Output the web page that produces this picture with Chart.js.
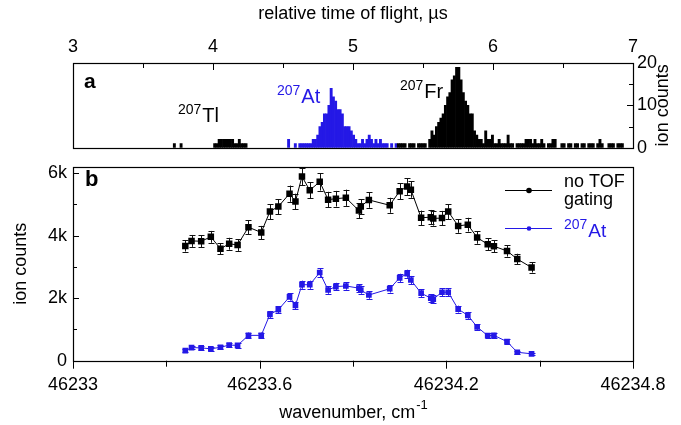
<!DOCTYPE html>
<html><head><meta charset="utf-8">
<script src="https://cdn.jsdelivr.net/npm/chart.js@4.4.0/dist/chart.umd.min.js"></script>
<style>
html,body{margin:0;padding:0;background:#fff;}
#wrap{position:relative;width:681px;height:425px;overflow:hidden;background:#fff;}
#cb{position:absolute;left:0;top:150px;}
#ca{position:absolute;left:0;top:0;}
</style></head><body>
<div id="wrap">
<canvas id="cb" width="681" height="275"></canvas>
<canvas id="ca" width="681" height="170"></canvas>
</div>
<script>
// ---------- Panel a : time-of-flight histogram ----------
const tofBinStart = 3.70;   // µs, left edge of first bin
const tofBinWidth = 0.016;  // µs
const tofCountsOther = [
 0,1,0,0,1,0,0,0,0,0,
 0,0,0,0,0,0,0,0,0,1,
 1,2,2,2,2,2,2,2,1,1,
 2,1,1,1,0,0,0,0,0,0,
 0,0,0,0,0,0,0,0,0,0,
 0,0,0,0,0,0,0,0,0,0,
 0,0,0,0,0,0,0,0,0,0,
 0,0,0,0,0,0,0,0,0,0,
 0,0,0,0,0,0,0,0,0,0,
 0,0,0,0,0,0,0,0,0,0,
 0,1,1,1,1,0,1,1,1,0,
 1,1,1,1,0,2,4,3,5,6,
 7,8,10,12,13,16,17,19,19,16,
 13,11,10,8,8,4,3,2,2,1,
 4,2,2,3,1,1,2,1,1,1,
 3,1,1,0,1,1,1,1,2,2,
 2,1,2,1,1,2,1,0,1,1,
 2,2,0,0,1,1,0,1,1,0,
 1,1,0,1,1,0,1,1,1,0,
 1,2,1,0,0,1,1,1,0,1,
 1,1
];
const tofAtFirstBin = 52;
const tofCountsAt = [
 2,0,0,1,0,1,1,1,1,1,
 1,2,2,3,5,6,8,8,10,14,
 12,11,9,9,8,5,5,5,4,3,
 2,1,1,2,1,2,3,2,1,2,
 1,2,1,1,1,0,1,0,1
];
const tofMajorTicks = [3,4,5,6,7];
const tofMinorTicks = [3.5,4.5,5.5,6.5];
const tofTickLabels = ['3','4','5','6','7'];
const ionMajorTicks = [0,10,20];
const ionMinorTicks = [5,15];
const ionTickLabels = ['0','10','20'];

// ---------- Panel b : wavenumber scan ----------
const wavenumber = [
 46233.361,46233.381,46233.412,46233.443,46233.474,46233.502,46233.529,46233.564,46233.605,46233.633,
 46233.660,46233.696,46233.715,46233.736,46233.761,46233.793,46233.820,46233.845,46233.877,46233.919,
 46233.925,46233.951,46234.018,46234.050,46234.074,46234.086,46234.119,46234.150,46234.158,46234.186,
 46234.206,46234.238,46234.269,46234.299,46234.333,46234.353,46234.395,46234.428,46234.474
];
const countsNoGate = [
 3670,3830,3820,3960,3580,3740,3700,4270,4100,4770,
 4930,5340,5090,5890,5450,5720,5150,5180,5210,4800,
 4930,5140,4970,5420,5570,5470,4570,4590,4550,4560,
 4770,4310,4350,3940,3720,3660,3510,3250,2980
];
const errNoGate = [
 180,190,190,190,180,190,190,220,210,240,
 240,260,250,280,260,280,250,250,260,240,
 240,250,240,260,270,260,230,230,230,230,
 240,220,220,200,190,190,180,170,160
];
const countsAt = [
 320,420,410,380,430,500,490,810,810,1480,
 1630,2040,1770,2430,2430,2820,2260,2370,2390,2320,
 2260,2100,2300,2650,2780,2580,2160,2000,1970,2190,
 2190,1650,1450,1080,800,810,610,270,220
];
const errAt = [
 50,60,60,60,60,70,70,90,90,110,
 110,120,120,130,130,140,120,120,120,120,
 120,120,120,130,130,130,120,120,120,120,
 120,110,110,90,80,80,70,50,40
];
const wnMajorTicks = [46233,46233.6,46234.2,46234.8];
const wnMinorTicks = [46233.3,46233.9,46234.5];
const wnTickLabels = ['46233','46233.6','46234.2','46234.8'];
const cntMajorTicks = [0,2000,4000,6000];
const cntMinorTicks = [1000,3000,5000];
const cntTickLabels = ['0','2k','4k','6k'];

const FAM = "'Liberation Sans', Arial, Helvetica, sans-serif";
const BLUE = '#2418e6';
const BLACK = '#000000';

function crisp(v){ return Math.round(v)+0.5; }

// ---------- build histogram data ----------
const histOther = tofCountsOther.map((c,i)=>({x: tofBinStart + tofBinWidth*(i+0.5), y: c>0?c:null}));
const histAt = tofCountsAt.map((c,i)=>({x: tofBinStart + tofBinWidth*(tofAtFirstBin+i+0.5), y: c>0?c:null}));

function drawSup(ctx, x, y, sup, main, supSize, mainSize, color, raise){
  ctx.fillStyle = color;
  ctx.textBaseline = 'alphabetic';
  ctx.textAlign = 'left';
  ctx.font = supSize+'px '+FAM;
  ctx.fillText(sup, x, y - raise);
  const w = ctx.measureText(sup).width;
  ctx.font = mainSize+'px '+FAM;
  ctx.fillText(main, x + w + 1, y);
}

const panelA = {
  id:'panelA',
  afterDraw(chart){
    const {ctx, chartArea:a, scales:{x,y}} = chart;
    ctx.save();
    ctx.strokeStyle = BLACK; ctx.lineWidth = 1.2;
    ctx.strokeRect(crisp(a.left), crisp(a.top), Math.round(a.right-a.left), Math.round(a.bottom-a.top));
    ctx.lineWidth = 1;
    ctx.beginPath();
    tofMajorTicks.forEach(v=>{const p=crisp(x.getPixelForValue(v)); ctx.moveTo(p,a.top); ctx.lineTo(p,a.top+7);});
    tofMinorTicks.forEach(v=>{const p=crisp(x.getPixelForValue(v)); ctx.moveTo(p,a.top); ctx.lineTo(p,a.top+5);});
    ionMajorTicks.forEach(v=>{const p=crisp(y.getPixelForValue(v)); ctx.moveTo(a.right,p); ctx.lineTo(a.right-6,p);});
    ionMinorTicks.forEach(v=>{const p=crisp(y.getPixelForValue(v)); ctx.moveTo(a.right,p); ctx.lineTo(a.right-4,p);});
    ctx.stroke();
    ctx.fillStyle = BLACK; ctx.font = 'bold 21px '+FAM; ctx.textBaseline='alphabetic'; ctx.textAlign='left';
    ctx.fillText('a', 84, 88);
    drawSup(ctx, 178, 122, '207', 'Tl', 14, 20, BLACK, 8);
    drawSup(ctx, 277, 103, '207', 'At', 14, 20, BLUE, 8);
    drawSup(ctx, 400, 98, '207', 'Fr', 14, 20, BLACK, 8);
    ctx.save();
    ctx.translate(663, (a.top+a.bottom)/2);
    ctx.rotate(-Math.PI/2);
    ctx.fillStyle = BLACK; ctx.font = '18px '+FAM; ctx.textAlign='center'; ctx.textBaseline='middle';
    ctx.fillText('ion counts', 0, 0);
    ctx.restore();
    ctx.restore();
  }
};

new Chart(document.getElementById('ca'), {
  type:'bar',
  data:{datasets:[
    {data: histOther, backgroundColor: BLACK, borderWidth:0, barPercentage:1, categoryPercentage:1, grouped:false},
    {data: histAt, backgroundColor: BLUE, borderWidth:0, barPercentage:1, categoryPercentage:1, grouped:false}
  ]},
  options:{
    responsive:false, animation:false, devicePixelRatio:1,
    layout:{padding:{left:73, right:0, top:0, bottom:22.3}},
    plugins:{legend:{display:false}, tooltip:{enabled:false}},
    scales:{
      x:{type:'linear', position:'top', min:3, max:7, offset:false,
         afterFit(s){ s.height = 63; },
         afterBuildTicks(s){ s.ticks = tofMajorTicks.map(v=>({value:v})); },
         grid:{display:false, drawTicks:false}, border:{display:false},
         ticks:{autoSkip:false, maxRotation:0, padding:5, color:BLACK, font:{family:FAM, size:18},
                callback:(v,i)=>tofTickLabels[i]},
         title:{display:true, text:'relative time of flight, µs', color:BLACK, font:{family:FAM, size:18}, padding:{top:3,bottom:0}}
      },
      y:{type:'linear', position:'right', min:0, max:20,
         afterFit(s){ s.width = 48; },
         afterBuildTicks(s){ s.ticks = ionMajorTicks.map(v=>({value:v})); },
         grid:{display:false, drawTicks:false}, border:{display:false},
         ticks:{padding:4, color:BLACK, font:{family:FAM, size:18}, callback:(v,i)=>ionTickLabels[i]}
      }
    }
  },
  plugins:[panelA]
});

// ---------- panel b ----------
const panelB = {
  id:'panelB',
  beforeDatasetsDraw(chart){
    const {ctx, scales:{x,y}} = chart;
    ctx.save();
    ctx.lineWidth = 1;
    const sets = [[countsNoGate, errNoGate, '#111'], [countsAt, errAt, BLUE]];
    sets.forEach(([vals, errs, col])=>{
      ctx.strokeStyle = col;
      ctx.beginPath();
      wavenumber.forEach((w,i)=>{
        const px = crisp(x.getPixelForValue(w));
        const y1 = y.getPixelForValue(vals[i]-errs[i]);
        const y2 = y.getPixelForValue(vals[i]+errs[i]);
        ctx.moveTo(px, y1); ctx.lineTo(px, y2);
        ctx.moveTo(px-3, Math.round(y1)+0.5); ctx.lineTo(px+3, Math.round(y1)+0.5);
        ctx.moveTo(px-3, Math.round(y2)+0.5); ctx.lineTo(px+3, Math.round(y2)+0.5);
      });
      ctx.stroke();
    });
    ctx.restore();
  },
  afterDraw(chart){
    const {ctx, chartArea:a, scales:{x,y}} = chart;
    ctx.save();
    ctx.strokeStyle = BLACK; ctx.lineWidth = 1.2;
    ctx.strokeRect(crisp(a.left), crisp(a.top), Math.round(a.right-a.left), Math.round(a.bottom-a.top));
    ctx.lineWidth = 1;
    ctx.beginPath();
    cntMajorTicks.forEach(v=>{const p=crisp(y.getPixelForValue(v)); ctx.moveTo(a.left,p); ctx.lineTo(a.left+6,p);});
    cntMinorTicks.forEach(v=>{const p=crisp(y.getPixelForValue(v)); ctx.moveTo(a.left,p); ctx.lineTo(a.left+4,p);});
    wnMajorTicks.forEach(v=>{const p=crisp(x.getPixelForValue(v)); ctx.moveTo(p,a.bottom); ctx.lineTo(p,a.bottom+8);});
    wnMinorTicks.forEach(v=>{const p=crisp(x.getPixelForValue(v)); ctx.moveTo(p,a.bottom); ctx.lineTo(p,a.bottom+6);});
    ctx.stroke();
    ctx.fillStyle = BLACK; ctx.font = 'bold 22px '+FAM; ctx.textBaseline='alphabetic'; ctx.textAlign='left';
    ctx.fillText('b', 85, 36);
    ctx.font = '18px '+FAM;
    const t1 = 'wavenumber, cm';
    const w1 = ctx.measureText(t1).width;
    ctx.font = '13px '+FAM;
    const w2 = ctx.measureText('-1').width;
    const cx = (a.left+a.right)/2;
    const x0 = cx - (w1+w2)/2;
    ctx.font = '18px '+FAM; ctx.fillText(t1, x0, 268);
    ctx.font = '13px '+FAM; ctx.fillText('-1', x0+w1+1, 259);
    // legend
    ctx.lineWidth = 1;
    ctx.strokeStyle = BLACK; ctx.beginPath(); ctx.moveTo(505, 40.5); ctx.lineTo(552, 40.5); ctx.stroke();
    ctx.fillStyle = BLACK; ctx.beginPath(); ctx.arc(529, 40.5, 2.8, 0, Math.PI*2); ctx.fill();
    ctx.strokeStyle = BLUE; ctx.beginPath(); ctx.moveTo(505, 78.5); ctx.lineTo(552, 78.5); ctx.stroke();
    ctx.fillStyle = BLUE; ctx.beginPath(); ctx.arc(529, 78.5, 2.3, 0, Math.PI*2); ctx.fill();
    ctx.fillStyle = BLACK; ctx.font = '18px '+FAM;
    ctx.fillText('no TOF', 564, 37);
    ctx.fillText('gating', 564, 55);
    drawSup(ctx, 564, 87, '207', 'At', 14, 19, BLUE, 8);
    ctx.restore();
  }
};

new Chart(document.getElementById('cb'), {
  type:'line',
  data:{datasets:[
    {data: wavenumber.map((w,i)=>({x:w, y:countsNoGate[i]})), borderColor:BLACK, borderWidth:1,
     pointStyle:'rect', pointRadius:4.6, pointBackgroundColor:BLACK, pointBorderWidth:0, tension:0, fill:false},
    {data: wavenumber.map((w,i)=>({x:w, y:countsAt[i]})), borderColor:BLUE, borderWidth:1,
     pointStyle:'rect', pointRadius:4, pointBackgroundColor:BLUE, pointBorderWidth:0, tension:0, fill:false}
  ]},
  options:{
    responsive:false, animation:false, devicePixelRatio:1,
    layout:{padding:{left:0, right:48, top:5.7, bottom:0}},
    plugins:{legend:{display:false}, tooltip:{enabled:false}},
    scales:{
      x:{type:'linear', position:'bottom', min:46233, max:46234.8,
         afterFit(s){ s.height = 64.3; },
         afterBuildTicks(s){ s.ticks = wnMajorTicks.map(v=>({value:v})); },
         grid:{display:false, drawTicks:false}, border:{display:false},
         ticks:{autoSkip:false, maxRotation:0, padding:14, color:BLACK, font:{family:FAM, size:18},
                callback:(v,i)=>wnTickLabels[i]}
      },
      y:{type:'linear', position:'left', min:0, max:6200,
         afterFit(s){ s.width = 73; },
         afterBuildTicks(s){ s.ticks = cntMajorTicks.map(v=>({value:v})); },
         grid:{display:false, drawTicks:false}, border:{display:false},
         ticks:{padding:6, color:BLACK, font:{family:FAM, size:18}, callback:(v,i)=>cntTickLabels[i]},
         title:{display:true, text:'ion counts', color:BLACK, font:{family:FAM, size:18}, padding:{top:10,bottom:0}}
      }
    }
  },
  plugins:[panelB]
});
</script>
</body></html>
